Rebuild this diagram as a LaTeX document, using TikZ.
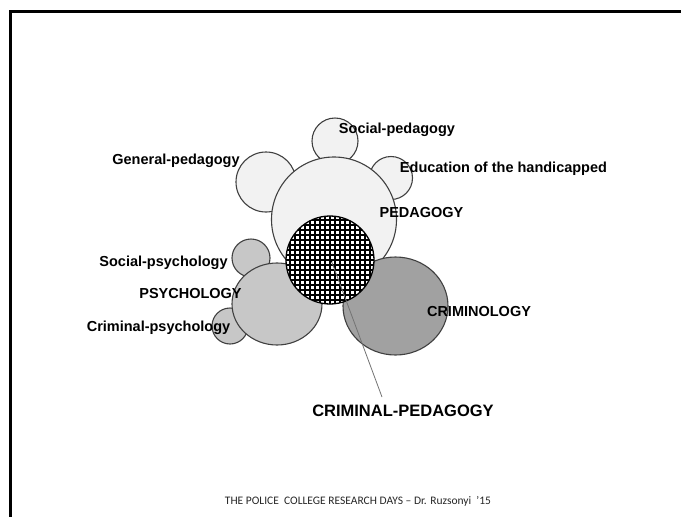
\documentclass[tikz,border=0pt]{standalone}
\usepackage{fontspec}
\setmainfont{Liberation Sans}
\newfontfamily\footfont{Carlito}
\usetikzlibrary{shapes.geometric}
\tikzset{
  bub/.style={circle, draw=black!75, line width=1.1pt, inner sep=0pt},
  ebub/.style={ellipse, draw=black!75, line width=1.1pt, inner sep=0pt},
  ped/.style={fill=black!5},
  psy/.style={fill=black!22},
  crim/.style={fill=black!37},
  lab/.style={font=\bfseries\fontsize{14.5}{16}\selectfont, inner sep=0pt, text height=0.72em, text depth=0pt, text=black},
  biglab/.style={font=\bfseries\fontsize{16.5}{18}\selectfont, inner sep=0pt, text height=0.72em, text depth=0pt, text=black},
}
\begin{document}
\begin{tikzpicture}[x=1pt,y=-1pt]
\useasboundingbox (0,0) rectangle (681,517);
% frame
\draw[line width=3pt] (10,517) -- (10,11.5) -- (681,11.5);
% pedagogy family
\node[bub,ped,minimum size=46pt] (sp) at (335,141) {};
\node[bub,ped,minimum size=60pt] (gp) at (266,182) {};
\node[bub,ped,minimum size=43pt] (eh) at (391,178) {};
\node[bub,ped,minimum size=125pt] (pe) at (334,219.5) {};
% psychology family
\node[bub,psy,minimum size=38pt] (ss) at (251,258) {};
\node[bub,psy,minimum size=36pt] (cs) at (230,326) {};
\node[ebub,psy,minimum width=90pt,minimum height=82pt] (ps) at (277,304) {};
% criminology
\node[ebub,crim,minimum width=105pt,minimum height=98pt] (cr) at (395.5,306) {};
% criminal pedagogy (hatched)
\node[bub,fill=white,minimum size=88pt,draw=black,line width=1.3pt,
  path picture={
    \foreach \i in {-10,...,10}{
      \draw[black,line width=1.6pt] ([xshift=\i*5pt]path picture bounding box.north) -- ([xshift=\i*5pt]path picture bounding box.south);
      \draw[black,line width=1.6pt] ([yshift=\i*5pt]path picture bounding box.west) -- ([yshift=\i*5pt]path picture bounding box.east);
    }
  }] (cp) at (330,260) {};
\fill[black] ([shift={(1,1.5)}]cp.center) circle (1.3pt);
% leader line
\coordinate (cpl) at (382,397);
\draw[black!55, line width=0.8pt] ([shift={(2,2.5)}]cp.center) -- (cpl);
% labels
\node[lab] (tsp) at (397,130) {Social-pedagogy};
\node[lab] (tgp) at (176,161) {General-pedagogy};
\node[lab] (teh) at (503.5,169) {Education of the handicapped};
\node[lab] (tpe) at (421.5,214) {PEDAGOGY};
\node[lab] (tss) at (163.5,263) {Social-psychology};
\node[lab] (tps) at (190.5,295) {PSYCHOLOGY};
\node[lab] (tcs) at (158.5,328) {Criminal-psychology};
\node[lab] (tcr) at (479,313) {CRIMINOLOGY};
\node[biglab] (tcp) at (403,413) {CRIMINAL-PEDAGOGY};
% footer
\node[font=\footfont\fontsize{11.5}{13}\selectfont, inner sep=0pt, text=black!85] (foot) at (358,501) {THE POLICE\ \ COLLEGE RESEARCH DAYS – Dr. Ruzsonyi\ \ ’15};
\end{tikzpicture}
\end{document}
